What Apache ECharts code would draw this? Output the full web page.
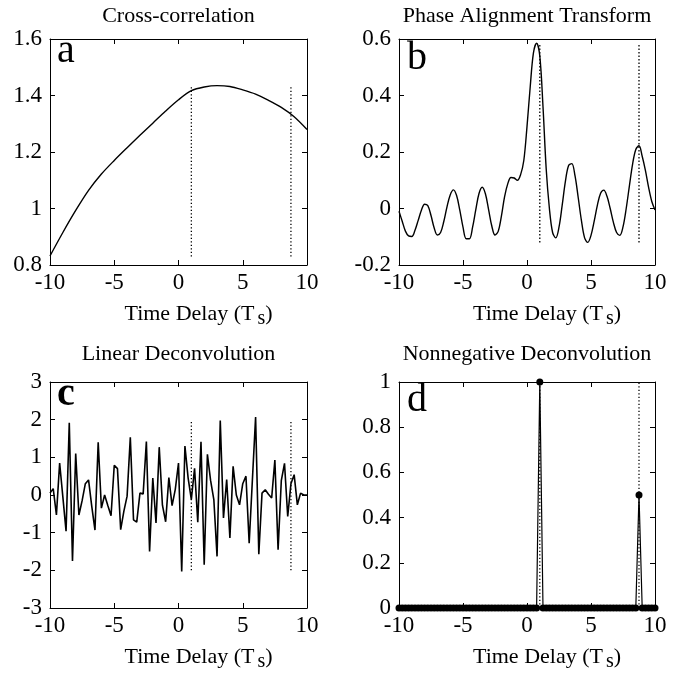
<!DOCTYPE html>
<html><head><meta charset="utf-8">
<script src="https://cdn.jsdelivr.net/npm/echarts@6/dist/echarts.min.js"></script>
<style>html,body{margin:0;padding:0;background:#fff}#c{width:697px;height:677px}</style>
</head><body><div id="c"></div>
<script>
// ---- data ----
// sample delays (Ts), step 0.25 from -10 to 10
const delays = Array.from({length: 81}, (_, i) => -10 + i * 0.25);
const ccDelays = [-10,-9,-8,-7,-6,-5,-4,-3,-2,-1,0,1,2,3,4,5,6,7,8,9,10];
const ccValues = [0.832,0.915,0.993,1.064,1.122,1.17,1.215,1.259,1.302,1.345,1.385,1.417,1.43,1.435,1.432,1.42,1.405,1.383,1.358,1.325,1.28];
const patValues = [-0.01,-0.045,-0.08,-0.097,-0.099,-0.077,-0.042,-0.006,0.015,0.010,-0.025,-0.069,-0.094,-0.085,-0.046,0.006,0.048,0.066,0.046,-0.006,-0.066,-0.107,-0.107,-0.066,-0.004,0.053,0.075,0.052,-0.004,-0.062,-0.094,-0.081,-0.027,0.042,0.088,0.11,0.108,0.10,0.12,0.17,0.29,0.43,0.55,0.585,0.54,0.36,0.14,0.0,-0.085,-0.104,-0.066,0.012,0.096,0.152,0.159,0.116,0.039,-0.042,-0.104,-0.12,-0.095,-0.045,0.012,0.054,0.065,0.043,0.0,-0.049,-0.085,-0.095,-0.065,0.0,0.08,0.157,0.209,0.222,0.185,0.135,0.075,0.025,-0.005];
const linValues = [0.05,0.17,-0.53,0.85,-0.05,-0.96,1.92,-1.75,1.1,-0.53,-0.15,0.3,0.4,-0.3,-0.93,1.4,-0.35,0.0,-0.28,-0.55,0.79,0.7,-0.92,-0.43,-0.03,1.53,-0.66,-0.72,0.05,0.03,1.42,-1.5,0.45,-0.74,1.27,-0.27,-0.71,0.46,-0.28,0.15,0.85,-2.03,1.3,0.45,-0.12,0.71,-0.72,1.41,-1.85,1.08,0.38,-0.12,-1.63,1.98,-0.61,0.41,-1.14,0.76,0.0,-0.26,0.3,0.5,-1.28,0.4,2.07,-1.57,0.05,0.14,0.02,-0.08,0.93,-1.45,0.38,0.84,-0.57,0.3,0.54,-0.26,0.05,0.0,0.0];
const nnValues = [0,0,0,0,0,0,0,0,0,0,0,0,0,0,0,0,0,0,0,0,0,0,0,0,0,0,0,0,0,0,0,0,0,0,0,0,0,0,0,0,0,0,0,0,1,0,0,0,0,0,0,0,0,0,0,0,0,0,0,0,0,0,0,0,0,0,0,0,0,0,0,0,0,0,0,0.5,0,0,0,0,0];
const trueDelays = [1, 8.75];
const dottedSpans = [[0.83, 1.435], [-0.12, 0.58], [-2, 2], [0, 1]];
const yRanges = [[0.8, 1.6, 0.2], [-0.2, 0.6, 0.2], [-3, 3, 1], [0, 1, 0.2]];
const xRange = [-10, 10, 5];
const panelTitles = ['Cross-correlation', 'Phase Alignment Transform', 'Linear Deconvolution', 'Nonnegative Deconvolution'];
const panelLetters = ['a', 'b', 'c', 'd'];

// ---- layout ----
const FONT = '"Liberation Serif", "Times New Roman", serif';
const grids = [
  {left: 50, top: 39, width: 257, height: 226},
  {left: 399, top: 39, width: 256, height: 226},
  {left: 50, top: 382, width: 257, height: 226},
  {left: 399, top: 382, width: 256, height: 226}
];
const titleY = [5, 5, 343, 343];
const letterPos = [[57, 31], [407, 38], [57, 375], [407, 380]];
const letterBold = [false, false, true, false];

const xAxes = [], yAxes = [], series = [], graphics = [];
const lineCol = '#000';
grids.forEach((g, i) => {
  const common = {
    type: 'value', gridIndex: i,
    axisLine: {onZero: false, lineStyle: {color: lineCol, width: 1}},
    axisTick: {inside: true, length: 5, lineStyle: {color: lineCol, width: 1}},
    splitLine: {show: false}
  };
  xAxes.push(Object.assign({}, common, {
    position: 'bottom', min: xRange[0], max: xRange[1], interval: xRange[2],
    axisLabel: {color: '#000', fontFamily: FONT, fontSize: 23, margin: 6},
    name: 'Time Delay (T{sub|s})', nameLocation: 'middle', nameGap: 34,
    nameTextStyle: {color: '#000', fontFamily: FONT, fontSize: 22, lineHeight: 30, padding: [0, 0, 0, 40],
      rich: {sub: {fontFamily: FONT, fontSize: 20, lineHeight: 30, verticalAlign: 'bottom', padding: [0, 0, 0, 3], color: '#000'}}}
  }));
  xAxes.push(Object.assign({}, common, {
    position: 'top', min: xRange[0], max: xRange[1], interval: xRange[2],
    axisLabel: {show: false}
  }));
  const yr = yRanges[i];
  yAxes.push(Object.assign({}, common, {
    position: 'left', min: yr[0], max: yr[1], interval: yr[2],
    axisLabel: {color: '#000', fontFamily: FONT, fontSize: 23, margin: 8}
  }));
  yAxes.push(Object.assign({}, common, {
    position: 'right', min: yr[0], max: yr[1], interval: yr[2],
    axisLabel: {show: false}
  }));
  // dotted true-delay markers
  trueDelays.forEach(d => {
    series.push({
      type: 'line', xAxisIndex: 2 * i, yAxisIndex: 2 * i, silent: true,
      data: [[d, dottedSpans[i][0]], [d, dottedSpans[i][1]]],
      showSymbol: false, symbol: 'none',
      lineStyle: {color: '#000', width: 1.3, type: [1.3, 2.2]}, z: 1
    });
  });
  graphics.push({
    type: 'text', x: g.left + g.width / 2, y: titleY[i],
    style: {text: panelTitles[i], font: '22px ' + FONT, fill: '#000', align: 'center', verticalAlign: 'top'}
  });
  graphics.push({
    type: 'text', x: letterPos[i][0], y: letterPos[i][1],
    style: {text: panelLetters[i], font: (letterBold[i] ? 'bold ' : '') + '40px ' + FONT, fill: '#000', align: 'left', verticalAlign: 'top'}
  });
});

series.push({type: 'line', xAxisIndex: 0, yAxisIndex: 0, data: ccDelays.map((d, k) => [d, ccValues[k]]),
  showSymbol: false, smooth: 0.3, lineStyle: {color: '#000', width: 1.4}, z: 3});
series.push({type: 'line', xAxisIndex: 2, yAxisIndex: 2, data: delays.map((d, k) => [d, patValues[k]]),
  showSymbol: false, smooth: 0.35, lineStyle: {color: '#000', width: 1.4}, z: 3});
series.push({type: 'line', xAxisIndex: 4, yAxisIndex: 4, data: delays.map((d, k) => [d, linValues[k]]),
  showSymbol: false, lineStyle: {color: '#000', width: 1.6}, z: 3});
series.push({type: 'line', xAxisIndex: 6, yAxisIndex: 6, data: delays.map((d, k) => [d, nnValues[k]]),
  symbol: 'circle', symbolSize: 7, showSymbol: true, clip: false,
  itemStyle: {color: '#000'}, lineStyle: {color: '#000', width: 1.2}, z: 3});

const chart = echarts.init(document.getElementById('c'), null, {renderer: 'canvas'});
chart.setOption({
  animation: false,
  backgroundColor: '#fff',
  grid: grids,
  xAxis: xAxes,
  yAxis: yAxes,
  series: series,
  graphic: graphics
});
</script></body></html>
